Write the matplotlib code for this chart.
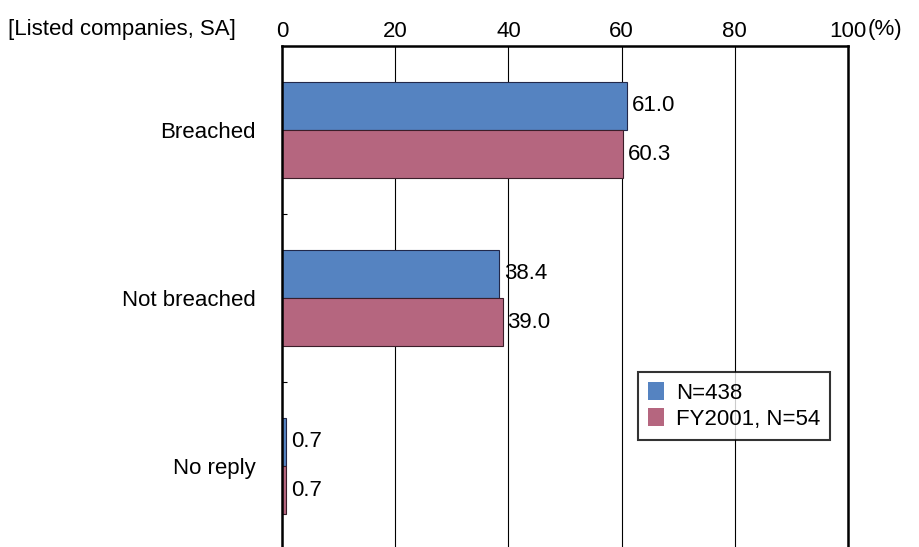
import numpy as np
import matplotlib.pyplot as plt

plt.rcParams['font.family'] = ['Liberation Sans', 'DejaVu Sans']

categories = ["Breached", "Not breached", "No reply"]
n438 = [61.0, 38.4, 0.7]
fy2001 = [60.3, 39.0, 0.7]
series_labels = ["N=438", "FY2001, N=54"]
xticks = [0, 20, 40, 60, 80, 100]

blue = "#5583c1"
pink = "#b5667f"
fs = 16

fig = plt.figure(figsize=(9.2, 5.47), dpi=100)
ax = fig.add_axes([282 / 920, -3 / 547, 566 / 920, 504 / 547])

y = np.arange(len(categories))
h = 0.286
b1 = ax.barh(y - h / 2, n438, height=h, color=blue, edgecolor="#22284a", linewidth=0.8,
             label=series_labels[0])
b2 = ax.barh(y + h / 2, fy2001, height=h, color=pink, edgecolor="#3b1e2a", linewidth=0.8,
             label=series_labels[1])

# value labels next to the bar ends
for bars, vals in [(b1, n438), (b2, fy2001)]:
    for rect, v in zip(bars, vals):
        ax.annotate(f"{v:.1f}", (rect.get_width(), rect.get_y() + rect.get_height() / 2),
                    xytext=(3.5, 0), textcoords="offset points",
                    va="center", ha="left", fontsize=fs)

ax.set_xlim(0, 100)
ax.set_ylim(2.5, -0.5)

ax.xaxis.tick_top()
ax.set_xticks(xticks)
ax.set_xticklabels([str(t) for t in xticks], fontsize=fs)
ax.tick_params(axis="x", length=0, pad=3)
ax.grid(axis="x", color="black", linewidth=0.8)
ax.set_axisbelow(True)

ax.set_yticks(y)
ax.set_yticklabels(categories, fontsize=fs)
ax.set_yticks([0.5, 1.5], minor=True)
ax.tick_params(axis="y", which="major", length=0, pad=19)
ax.tick_params(axis="y", which="minor", direction="in", length=3.5, width=0.8)

for s in ax.spines.values():
    s.set_linewidth(1.8)
    s.set_color("black")

fig.text(868 / 920, 1 - 30 / 547, "(%)", ha="left", va="center", fontsize=fs)
fig.text(8 / 920, 1 - 30 / 547, "[Listed companies, SA]", ha="left", va="center", fontsize=fs)

leg = ax.legend(loc="upper left", bbox_to_anchor=((638 - 282) / 566, (550 - 372) / 504),
                fontsize=fs, frameon=True, fancybox=False, edgecolor="black",
                handlelength=0.7, handleheight=0.85, handletextpad=0.55,
                borderpad=0.45, labelspacing=0.2, borderaxespad=0)
leg.get_frame().set_linewidth(1.5)
for p in leg.get_patches():
    p.set_edgecolor("none")

fig.savefig("out.png", dpi=100)
